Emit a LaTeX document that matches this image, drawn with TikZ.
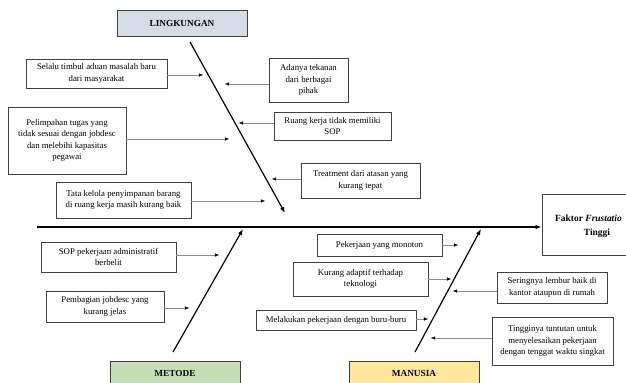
\documentclass[tikz,border=0pt]{standalone}
\usepackage{fontspec}
\setmainfont{Liberation Serif}
\usetikzlibrary{arrows.meta}
\definecolor{lingfill}{HTML}{D6DCE5}
\definecolor{metfill}{HTML}{C5E0B4}
\definecolor{manfill}{HTML}{FFE699}
\definecolor{bordergray}{HTML}{404040}
\definecolor{conngray}{HTML}{8C8C8C}
\tikzset{
  cbox/.style={draw=bordergray, line width=0.7pt, fill=white, align=center, inner sep=0pt,
    font=\fontsize{8.8}{11.3}\selectfont},
  catbox/.style={draw=bordergray, line width=1pt, align=center, inner sep=0pt,
    minimum width=130bp, font=\fontsize{9.3}{11}\selectfont\bfseries},
  conn/.style={draw=conngray, line width=0.6pt, -{Latex[black,length=4.5bp,width=3.5bp]}},
  bone/.style={draw=black, line width=1.2pt, -{Latex[length=6bp,width=4.5bp]}},
  spine/.style={draw=black, line width=1.5pt, -{Latex[length=6bp,width=4.5bp]}}
}
\begin{document}
\begin{tikzpicture}[x=1bp,y=-1bp]
\useasboundingbox (0,0) rectangle (626,382);
\fill[white] (0,0) rectangle (626,382);

% category boxes
\node[catbox, fill=lingfill, minimum height=26bp] (ling) at (182,23) {LINGKUNGAN};
\node[catbox, fill=metfill, minimum height=25bp] (met) at (175,373.5) {METODE};
\node[catbox, fill=manfill, minimum height=25bp] (man) at (414,373.5) {MANUSIA};

% effect box
\node[draw=bordergray, line width=0.9pt, minimum width=110bp, minimum height=61bp, inner sep=0pt] (frust) at (597,224.5) {};
\node[anchor=base west, inner sep=0pt, font=\fontsize{9.5}{11}\selectfont\bfseries] (frustA) at (555,221) {Faktor \textit{Frustatio}};
\node[anchor=base, inner sep=0pt, font=\fontsize{9.5}{11}\selectfont\bfseries] (frustB) at (597,235) {Tinggi};

% bones
\coordinate (lingS) at (190,42);
\coordinate (lingE) at (285,213);
\coordinate (metS) at (173,352);
\coordinate (metE) at (243,229);
\coordinate (manS) at (415,352);
\coordinate (manE) at (481,229);
\coordinate (spS) at (37,227);
\draw[spine] (spS) -- (spS -| frust.west);
\draw[bone] (lingS) -- (lingE);
\draw[bone] (metS) -- (metE);
\draw[bone] (manS) -- (manE);

% Lingkungan causes
\node[cbox, minimum width=141bp, minimum height=29bp] (s1) at (96.5,73.5) {Selalu timbul aduan masalah baru\\dari masyarakat};
\node[cbox, minimum width=118bp, minimum height=67bp] (s2) at (67,140.5) {Pelimpahan tugas yang\\tidak sesuai dengan jobdesc\\dan melebihi kapasitas\\pegawai};
\node[cbox, minimum width=135bp, minimum height=36bp] (s3) at (123.5,200) {Tata kelola penyimpanan barang\\di ruang kerja masih kurang baik};
\node[cbox, minimum width=79bp, minimum height=44bp] (s4) at (308.5,80) {Adanya tekanan\\dari berbagai\\pihak};
\node[cbox, minimum width=117bp, minimum height=28bp] (s5) at (332.5,126) {Ruang kerja tidak memiliki\\SOP};
\node[cbox, minimum width=119bp, minimum height=35bp] (s6) at (360.5,180.5) {Treatment dari atasan yang\\kurang tepat};

% Metode causes
\node[cbox, minimum width=135bp, minimum height=30bp] (s7) at (108.5,257) {SOP pekerjaan administratif\\berbelit};
\node[cbox, minimum width=118bp, minimum height=31bp] (s8) at (105,306.5) {Pembagian jobdesc yang\\kurang jelas};

% Manusia causes
\node[cbox, minimum width=125bp, minimum height=22bp] (s9) at (379.5,245) {Pekerjaan yang monoton};
\node[cbox, minimum width=135bp, minimum height=34bp] (s10) at (360.5,279) {Kurang adaptif terhadap\\teknologi};
\node[cbox, minimum width=160bp, minimum height=20bp] (s11) at (336,320) {Melakukan pekerjaan dengan buru-buru};
\node[cbox, minimum width=110bp, minimum height=31bp] (s12) at (552,287.5) {Seringnya lembur baik di\\kantor ataupun di rumah};
\node[cbox, minimum width=121bp, minimum height=48bp] (s13) at (552.5,341) {Tingginya tuntutan untuk\\menyelesaikan pekerjaan\\dengan tenggat waktu singkat};

% connectors
\draw[conn] (s1.east) ++(0,1.5) -- ++(36,0);
\draw[conn] (s2.east) ++(0,-1.5) -- ++(103,0);
\draw[conn] (s3.east) ++(0,1) -- ++(74,0);
\draw[conn] (s4.west) ++(0,4) -- ++(-44,0);
\draw[conn] (s5.west) ++(0,-3) -- ++(-35,0);
\draw[conn] (s6.west) ++(0,-1.5) -- ++(-29,0);
\draw[conn] (s7.east) ++(0,-2) -- ++(43,0);
\draw[conn] (s8.east) ++(0,1.5) -- ++(25,0);
\draw[conn] (s9.east) -- ++(16,0);
\draw[conn] (s10.east) -- ++(23,0);
\draw[conn] (s11.east) ++(0,-1) -- ++(12,0);
\draw[conn] (s12.west) ++(0,3.5) -- ++(-44,0);
\draw[conn] (s13.west) ++(0,-3) -- ++(-61,0);
\end{tikzpicture}
\end{document}
